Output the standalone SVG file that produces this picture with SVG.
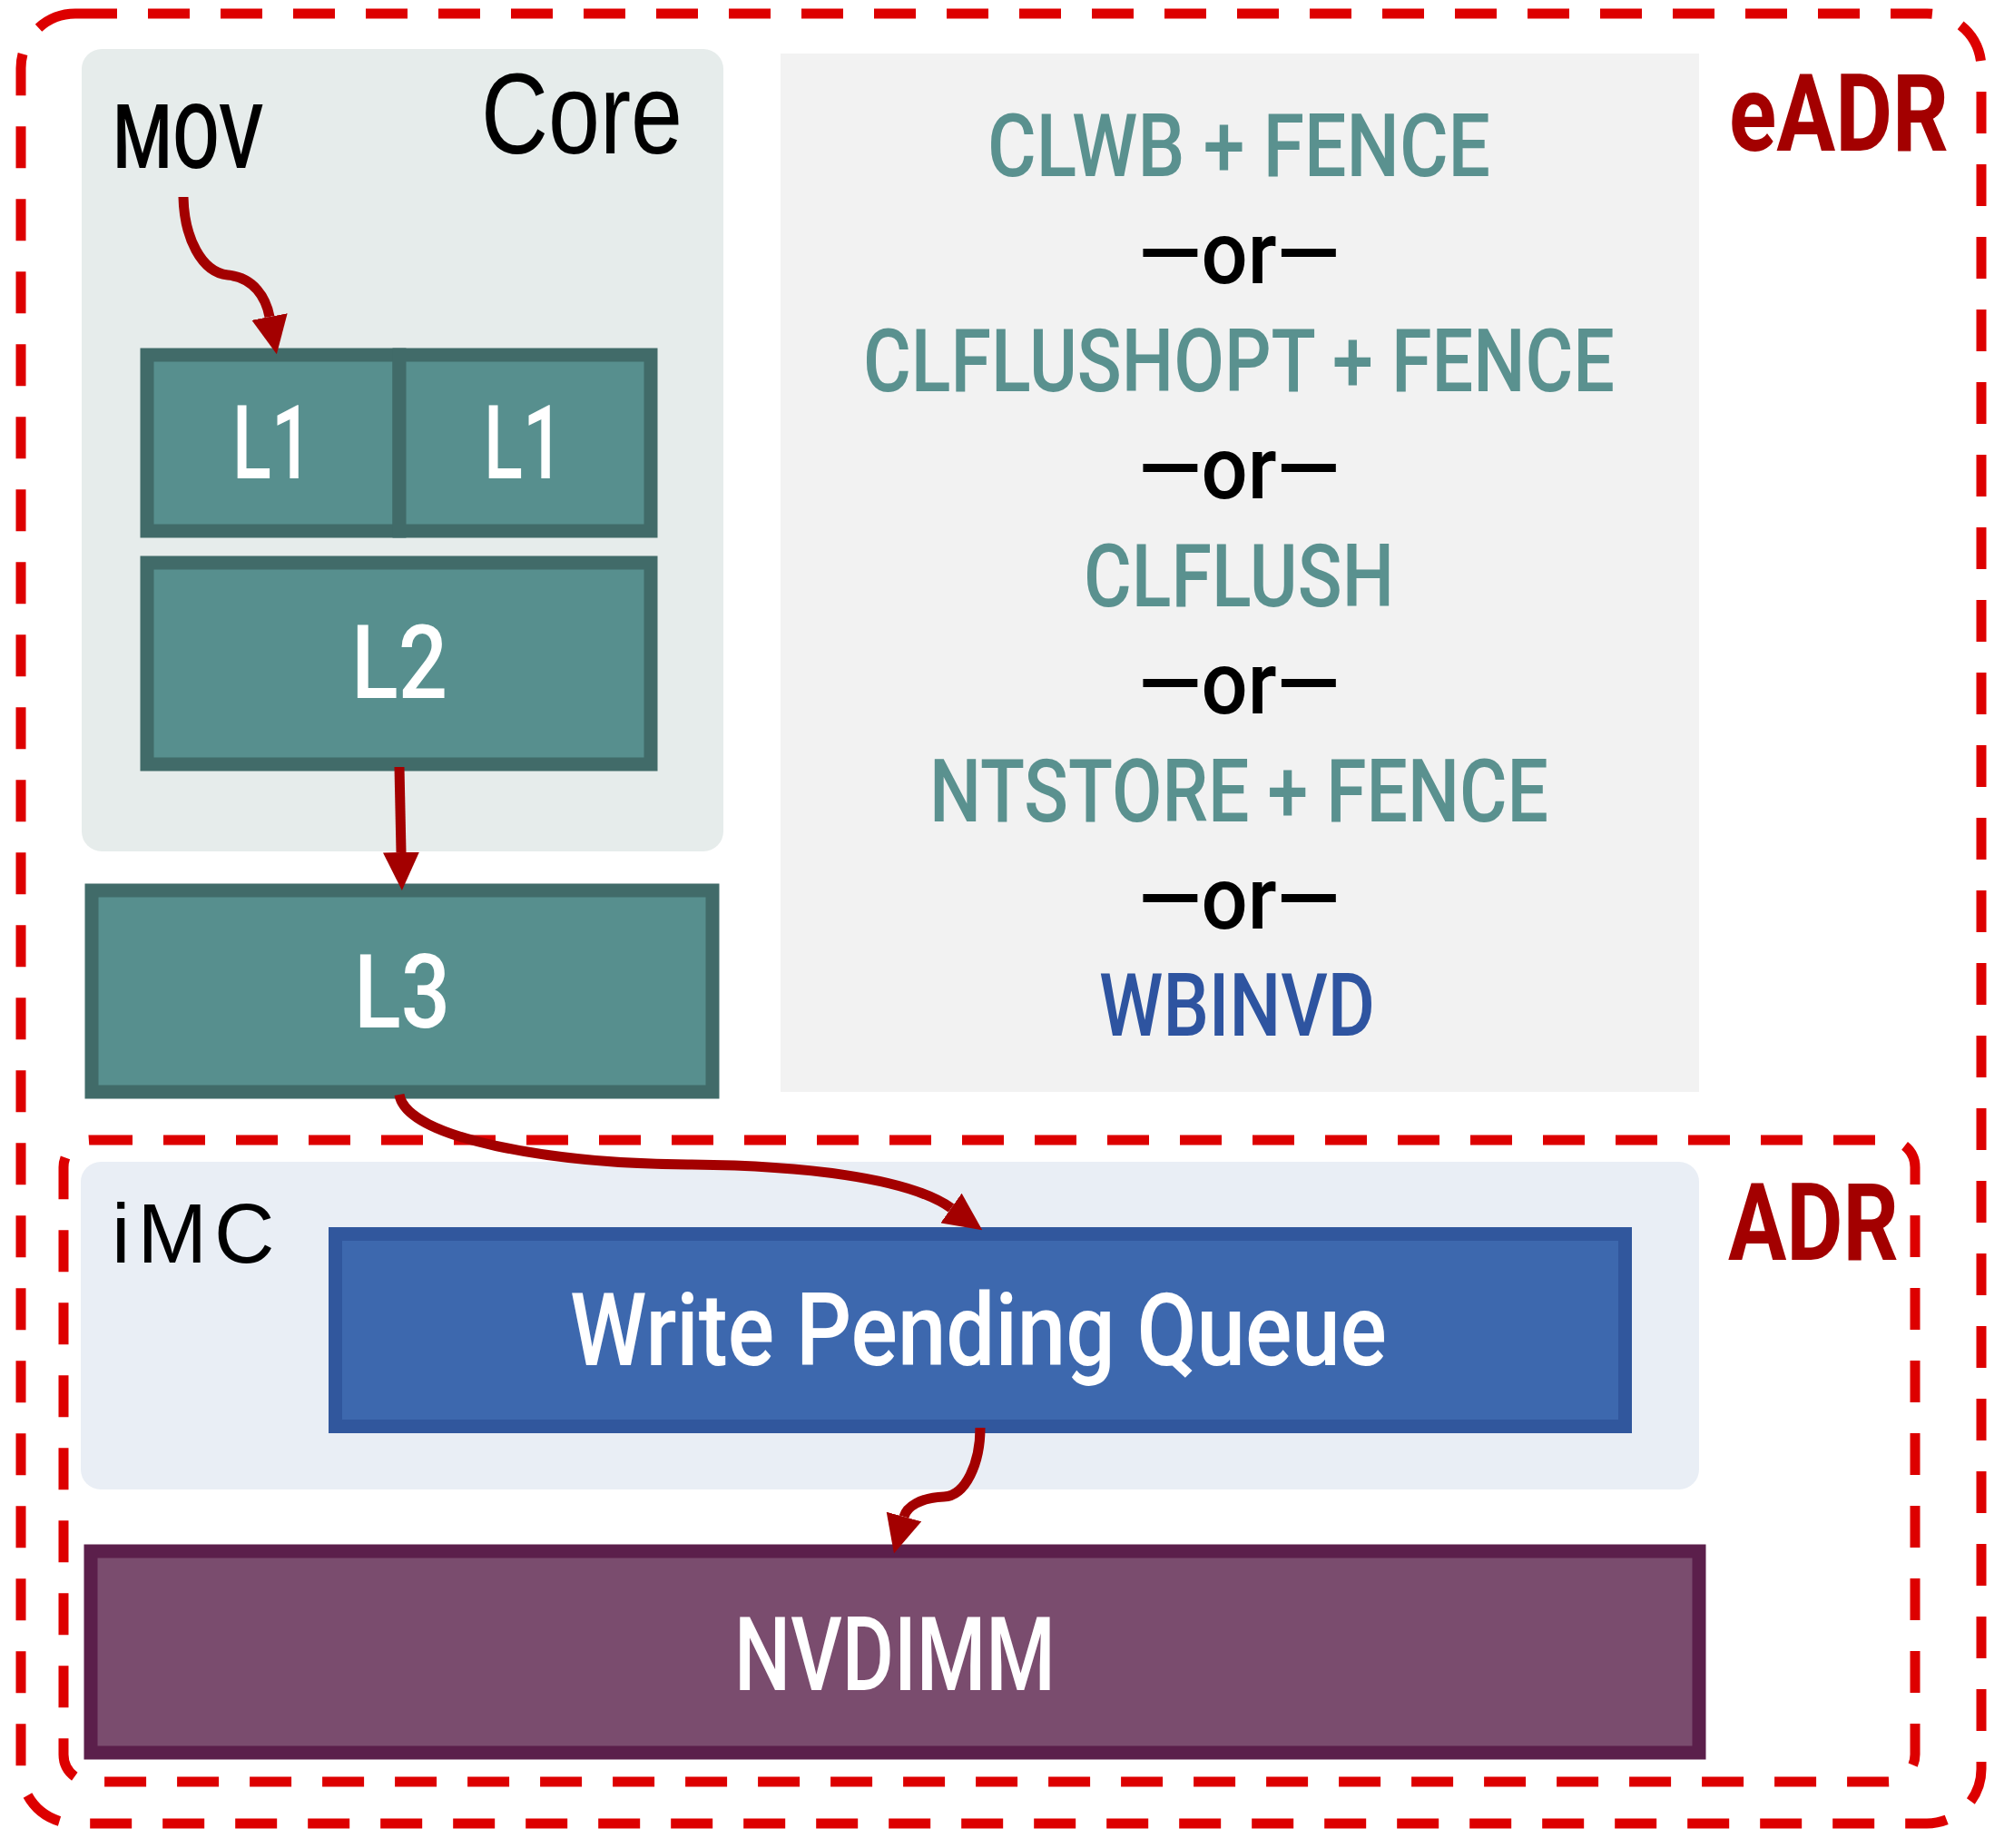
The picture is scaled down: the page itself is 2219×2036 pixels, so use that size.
<svg xmlns="http://www.w3.org/2000/svg" width="2219" height="2036" viewBox="0 0 2219 2036">
<style>
.din{font-family:Roboto,"DejaVu Sans",sans-serif;font-weight:500}
.dinb{font-family:Roboto,"DejaVu Sans",sans-serif;font-weight:700;fill:#A30000}
.arial{font-family:"Liberation Sans",Arial,sans-serif;fill:#000}
.dash{fill:none;stroke:#DD0000;stroke-width:11;stroke-dasharray:46 34}
.teal{fill:#578F8E;stroke:#416B69;stroke-width:15}
.wt{fill:#FFFFFF;text-anchor:middle}
.tt{fill:#5A918F;text-anchor:middle;font-size:97px}
.or{fill:#000;text-anchor:middle;font-size:97px}
.arr{fill:none;stroke:#A30000;stroke-width:11}
</style>
<defs>
<marker id="ah" markerUnits="userSpaceOnUse" markerWidth="42" markerHeight="40" refX="0" refY="20" orient="auto" viewBox="0 0 42 40">
<path d="M0,0 L42,20 L0,40 Z" fill="#A30000"/>
</marker>
</defs>
<rect width="2219" height="2036" fill="#FFFFFF"/>

<g id="eadr-boundary">
<rect class="dash" x="23" y="15" width="2160" height="1994" rx="60"/>
<text class="dinb" x="2026" y="166" font-size="118" text-anchor="middle" textLength="242" lengthAdjust="spacingAndGlyphs">eADR</text>
</g>

<g id="core">
<rect x="90" y="54" width="707" height="884" rx="22" fill="#E6ECEB"/>
<text class="arial" x="752" y="169" font-size="127" text-anchor="end" textLength="222" lengthAdjust="spacingAndGlyphs">Core</text>
</g>

<g id="mov">
<text class="din" x="207" y="185" font-size="98" fill="#000" text-anchor="middle" textLength="166" lengthAdjust="spacingAndGlyphs">MOV</text>
</g>

<g id="l1-a">
<rect class="teal" x="162" y="391" width="278" height="194"/>
<text class="din wt" x="300" y="527" font-size="113" textLength="88" lengthAdjust="spacingAndGlyphs">L1</text>
</g>
<g id="l1-b">
<rect class="teal" x="440" y="391" width="277" height="194"/>
<text class="din wt" x="577" y="527" font-size="113" textLength="88" lengthAdjust="spacingAndGlyphs">L1</text>
</g>

<g id="l2">
<rect class="teal" x="162" y="620" width="555" height="222"/>
<text class="din wt" x="440" y="769" font-size="113" textLength="106" lengthAdjust="spacingAndGlyphs">L2</text>
</g>

<g id="l3">
<rect class="teal" x="101" y="981" width="684" height="222"/>
<text class="din wt" x="443" y="1132" font-size="113" textLength="106" lengthAdjust="spacingAndGlyphs">L3</text>
</g>

<g id="instructions">
<rect x="860" y="59" width="1012" height="1144" fill="#F2F2F2"/>
<text class="din tt" x="1365" y="194" textLength="554" lengthAdjust="spacingAndGlyphs">CLWB + FENCE</text>
<text class="din or" x="1365" y="312" textLength="222" lengthAdjust="spacingAndGlyphs">—or—</text>
<text class="din tt" x="1365" y="431" textLength="828" lengthAdjust="spacingAndGlyphs">CLFLUSHOPT + FENCE</text>
<text class="din or" x="1365" y="549" textLength="222" lengthAdjust="spacingAndGlyphs">—or—</text>
<text class="din tt" x="1365" y="668" textLength="342" lengthAdjust="spacingAndGlyphs">CLFLUSH</text>
<text class="din or" x="1365" y="786" textLength="222" lengthAdjust="spacingAndGlyphs">—or—</text>
<text class="din tt" x="1365" y="905" textLength="682" lengthAdjust="spacingAndGlyphs">NTSTORE + FENCE</text>
<text class="din or" x="1365" y="1023" textLength="222" lengthAdjust="spacingAndGlyphs">—or—</text>
<text class="din" x="1363" y="1141" font-size="97" fill="#2E54A0" text-anchor="middle" textLength="304" lengthAdjust="spacingAndGlyphs">WBINVD</text>
</g>

<g id="adr-boundary">
<rect class="dash" x="70" y="1256" width="2040" height="707" rx="30"/>
<text class="dinb" x="1998" y="1388" font-size="118" text-anchor="middle" textLength="188" lengthAdjust="spacingAndGlyphs">ADR</text>
</g>

<g id="imc">
<rect x="89" y="1280" width="1783" height="361" rx="22" fill="#E9EEF5"/>
<text class="arial" x="123" y="1391" font-size="92" letter-spacing="8">iMC</text>
</g>

<g id="wpq">
<rect x="369.5" y="1359.5" width="1421" height="212" fill="#3D68AE" stroke="#31579D" stroke-width="15"/>
<text class="din wt" x="1078" y="1504" font-size="112" textLength="900" lengthAdjust="spacingAndGlyphs">Write Pending Queue</text>
</g>

<g id="nvdimm">
<rect x="100" y="1709" width="1772" height="222" fill="#7A4C6E" stroke="#5B1F4B" stroke-width="15"/>
<text class="din wt" x="986" y="1862" font-size="114" textLength="354" lengthAdjust="spacingAndGlyphs">NVDIMM</text>
</g>

<g id="connectors">
<path class="arr" marker-end="url(#ah)" d="M202,217 C203,262 222,300 251,303 C280,306 293,328 297,349"/>
<path class="arr" marker-end="url(#ah)" d="M440,845 L442,939"/>
<path class="arr" marker-end="url(#ah)" d="M440,1206 C448,1255 610,1282 758,1283 C882,1284 1000,1297 1048,1331"/>
<path class="arr" marker-end="url(#ah)" d="M1080,1573 C1080,1612 1064,1648 1040,1649 C1014,1650 999,1660 996,1671"/>
</g>
</svg>
